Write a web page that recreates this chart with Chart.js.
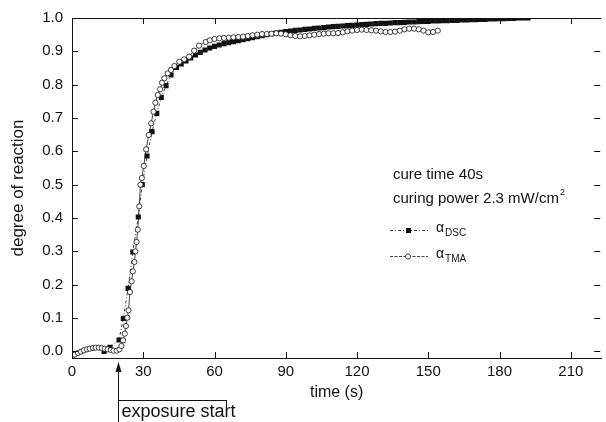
<!DOCTYPE html>
<html>
<head>
<meta charset="utf-8">
<script src="https://cdn.jsdelivr.net/npm/chart.js@4.4.1/dist/chart.umd.min.js"></script>
<style>
  html, body { margin: 0; padding: 0; background: #fff; }
  canvas { display: block; }
</style>
</head>
<body>
<canvas id="myChart" width="606" height="422"></canvas>
<script>
// TMA (open circles)
const timeTMA = [0, 1.2, 2.5, 3.8, 5, 6.3, 7.5, 8.8, 10, 11.3, 12.5, 13.8, 15, 16.3, 17.5, 18.8, 20, 20.8,
    21.5, 22.2, 22.7, 23.3, 23.8, 24.4, 25.1, 25.6, 26.3, 26.7, 27.2, 27.7, 28.3, 28.8, 29.4, 30.2,
    31.2, 32.3, 33.3, 34.3, 35.1, 36.1, 37.1, 37.9, 38.9, 40.3, 41.7, 43.1, 45.2, 47.2, 49.3, 51.4,
    53.5, 56.3, 58, 60, 62, 64, 66, 68, 70, 72, 74, 76, 78, 80, 82, 84, 86, 88, 90, 92, 94, 96, 98,
    100, 102, 104, 106, 108, 110, 112, 114, 116, 118, 120, 122, 124, 126, 128, 130, 132, 134, 136,
    138, 140, 142, 144, 146, 148, 150, 152, 154];
const alphaTMA = [-0.015, -0.01, -0.005, -0.001, 0.003, 0.006, 0.008, 0.01, 0.011, 0.011, 0.01, 0.008,
    0.006, 0.004, 0.002, 0.002, 0.006, 0.016, 0.033, 0.053, 0.076, 0.101, 0.123, 0.178, 0.21, 0.24,
    0.268, 0.3, 0.328, 0.365, 0.435, 0.5, 0.52, 0.556, 0.606, 0.649, 0.684, 0.719, 0.746, 0.769,
    0.786, 0.806, 0.819, 0.834, 0.844, 0.856, 0.869, 0.876, 0.884, 0.902, 0.917, 0.928, 0.933,
    0.937, 0.939, 0.94, 0.941, 0.942, 0.943, 0.944, 0.946, 0.948, 0.95, 0.952, 0.952, 0.953, 0.954,
    0.953, 0.951, 0.948, 0.946, 0.945, 0.946, 0.948, 0.95, 0.952, 0.953, 0.954, 0.954, 0.955, 0.957,
    0.96, 0.962, 0.964, 0.965, 0.964, 0.963, 0.962, 0.96, 0.958, 0.958, 0.959, 0.962, 0.966, 0.968,
    0.968, 0.966, 0.962, 0.957, 0.958, 0.962];

// DSC (filled squares)
const timeDSC = [13.5, 16, 19.8, 21.6, 23.6, 25.6, 27.9, 29.6, 31.6, 33.7, 35.7, 37.6, 39.6, 41.7,
    44, 46, 48, 50, 52, 54, 56, 58, 60, 62, 64, 66, 68, 70, 72, 74, 76, 78, 80, 82, 84, 86, 88, 90,
    92, 94, 96, 98, 100, 102, 104, 106, 108, 110, 112, 114, 116, 118, 120, 122, 124, 126, 128, 130,
    132, 134, 136, 138, 140, 142, 144, 146, 148, 150, 152, 154, 156, 158, 160, 162, 164, 166, 168,
    170, 172, 174, 176, 178, 180, 182, 184, 186, 188, 190, 192];
const alphaDSC = [0.0, 0.012, 0.034, 0.099, 0.189, 0.298, 0.403, 0.5, 0.586, 0.659, 0.714, 0.762,
    0.797, 0.829, 0.852, 0.862, 0.871, 0.88, 0.889, 0.897, 0.904, 0.91, 0.915, 0.919, 0.923, 0.926,
    0.929, 0.932, 0.935, 0.938, 0.941, 0.944, 0.947, 0.95, 0.953, 0.955, 0.957, 0.959, 0.961, 0.963,
    0.964, 0.966, 0.967, 0.969, 0.97, 0.971, 0.973, 0.974, 0.975, 0.976, 0.977, 0.978, 0.979, 0.98,
    0.981, 0.982, 0.983, 0.984, 0.984, 0.985, 0.986, 0.986, 0.987, 0.988, 0.988, 0.989, 0.99, 0.99,
    0.991, 0.991, 0.992, 0.992, 0.993, 0.993, 0.994, 0.994, 0.995, 0.995, 0.996, 0.996, 0.997, 0.997,
    0.998, 0.998, 0.999, 0.999, 1.0, 1.0, 1.0];

const xTicks = [0, 30, 60, 90, 120, 150, 180, 210];
const yTicks = [0, 0.1, 0.2, 0.3, 0.4, 0.5, 0.6, 0.7, 0.8, 0.9, 1.0];
const exposureStart = 19.2;

const FONT = 'Liberation Sans, Arial, Helvetica, sans-serif';
const INK = '#111';

function toPoints(xs, ys) {
    return xs.map((x, i) => ({ x: x, y: ys[i] }));
}

// ticks inside the frame, top line, texts and the hand made legend
const decorations = {
    id: 'decorations',
    afterDraw(chart) {
        const ctx = chart.ctx;
        const area = chart.chartArea;
        const xs = chart.scales.x;
        const ys = chart.scales.y;
        ctx.save();
        ctx.strokeStyle = INK;
        ctx.lineWidth = 1;
        ctx.beginPath();
        ctx.moveTo(area.left, area.top + 0.5);
        ctx.lineTo(area.right, area.top + 0.5);
        xTicks.forEach(v => {
            const px = Math.round(xs.getPixelForValue(v)) + 0.5;
            ctx.moveTo(px, area.bottom);
            ctx.lineTo(px, area.bottom - 6);
            ctx.moveTo(px, area.top);
            ctx.lineTo(px, area.top + 6);
        });
        yTicks.forEach(v => {
            const py = Math.round(ys.getPixelForValue(v)) + 0.5;
            ctx.moveTo(area.left, py);
            ctx.lineTo(area.left + 6, py);
            ctx.moveTo(area.right - 1, py);
            ctx.lineTo(area.right - 7, py);
        });
        ctx.stroke();

        // exposure start arrow
        const ax = Math.round(xs.getPixelForValue(exposureStart)) + 0.5;
        ctx.beginPath();
        ctx.moveTo(ax, 364);
        ctx.lineTo(ax, 422);
        ctx.moveTo(ax, 400.5);
        ctx.lineTo(226, 400.5);
        ctx.moveTo(226.5, 400);
        ctx.lineTo(226.5, 413);
        ctx.stroke();
        ctx.fillStyle = INK;
        ctx.beginPath();
        ctx.moveTo(ax, 362);
        ctx.lineTo(ax - 3, 372);
        ctx.lineTo(ax + 3, 372);
        ctx.closePath();
        ctx.fill();

        ctx.textBaseline = 'middle';
        ctx.textAlign = 'left';
        ctx.font = '18px ' + FONT;
        ctx.fillText('exposure start', ax + 3, 412);

        // annotation text
        ctx.font = '15px ' + FONT;
        ctx.fillText('cure time 40s', 393, 175);
        const cp = 'curing power 2.3 mW/cm';
        ctx.fillText(cp, 393, 199);
        const w = ctx.measureText(cp).width;
        ctx.font = '9px ' + FONT;
        ctx.fillText('2', 393 + w + 1, 193);

        // legend
        const rows = [
            { y: 230, sub: 'DSC', dash: [3, 2, 1, 2], square: true },
            { y: 256, sub: 'TMA', dash: [3, 1.5], square: false }
        ];
        rows.forEach(r => {
            ctx.setLineDash(r.dash);
            ctx.lineWidth = 0.8;
            ctx.beginPath();
            ctx.moveTo(390, r.y + 0.5);
            ctx.lineTo(428, r.y + 0.5);
            ctx.stroke();
            ctx.setLineDash([]);
            if (r.square) {
                ctx.fillRect(406, r.y - 2, 5, 5);
            } else {
                ctx.fillStyle = '#fff';
                ctx.beginPath();
                ctx.arc(408, r.y + 0.5, 2.6, 0, Math.PI * 2);
                ctx.fill();
                ctx.stroke();
                ctx.fillStyle = INK;
            }
            ctx.font = '14px ' + FONT;
            ctx.fillText('\u03b1', 436, r.y - 2);
            const aw = ctx.measureText('\u03b1').width;
            ctx.font = '10px ' + FONT;
            ctx.fillText(r.sub, 436 + aw + 1, r.y + 3);
        });
        ctx.restore();
    }
};

const data = {
    datasets: [{
        label: 'αDSC',
        data: toPoints(timeDSC, alphaDSC),
        showLine: true,
        borderColor: INK,
        backgroundColor: INK,
        borderWidth: 0.8,
        borderDash: [3, 2, 1, 2],
        pointStyle: 'rect',
        pointRadius: 3.6,
        pointBorderWidth: 0,
        order: 2
    }, {
        label: 'αTMA',
        data: toPoints(timeTMA, alphaTMA),
        showLine: true,
        borderColor: INK,
        backgroundColor: '#fff',
        borderWidth: 0.8,
        pointStyle: 'circle',
        pointRadius: 2.6,
        pointBorderWidth: 0.8,
        order: 1
    }]
};

const options = {
    responsive: false,
    animation: false,
    devicePixelRatio: 1,
    layout: { padding: { top: 18, right: 1, left: 0, bottom: 0 } },
    plugins: { legend: { display: false }, tooltip: { enabled: false } },
    scales: {
        x: {
            type: 'linear',
            min: 0,
            max: 222.8,
            afterBuildTicks: s => { s.ticks = xTicks.map(v => ({ value: v })); },
            afterFit: s => { s.height = 64; },
            grid: { display: false, drawTicks: false },
            border: { display: true, color: INK, width: 1 },
            ticks: { color: INK, padding: 5, maxRotation: 0, font: { family: FONT, size: 15 } },
            title: { display: true, text: 'time (s)', color: INK, padding: { top: 0, bottom: 20 },
                font: { family: FONT, size: 16 } }
        },
        y: {
            min: -0.02,
            max: 1.0,
            afterBuildTicks: s => { s.ticks = yTicks.map(v => ({ value: v })); },
            afterFit: s => { s.width = 72; },
            grid: { display: false, drawTicks: false },
            border: { display: true, color: INK, width: 1 },
            ticks: { color: INK, padding: 9, font: { family: FONT, size: 15 },
                callback: v => v.toFixed(1) },
            title: { display: true, text: 'degree of reaction', color: INK, padding: { top: 8, bottom: 0 },
                font: { family: FONT, size: 17 } }
        }
    }
};

const ctx = document.getElementById('myChart').getContext('2d');
const myChart = new Chart(ctx, {
    type: 'scatter',
    data: data,
    options: options,
    plugins: [decorations]
});
</script>
</body>
</html>
